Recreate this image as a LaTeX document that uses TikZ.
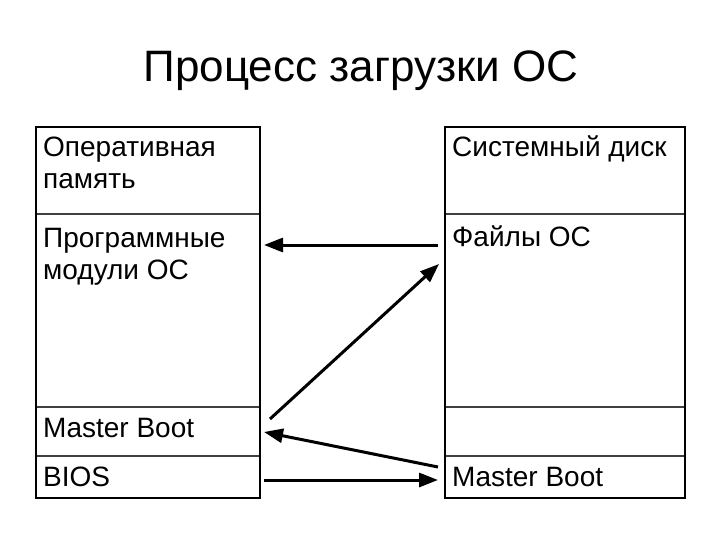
\documentclass[tikz,border=0pt]{standalone}
\usepackage{fontspec}
\setmainfont{Liberation Sans}
\usetikzlibrary{arrows.meta}
\begin{document}
\begin{tikzpicture}[x=1pt,y=-1pt,
  outer/.style={draw=black,line width=1.8pt},
  inner/.style={draw=black!75,line width=1.2pt},
  txt/.style={anchor=base west,inner sep=0pt,font=\fontsize{28}{32}\selectfont,align=left},
  arr/.style={line width=3pt,-{Triangle[length=19pt,width=14pt]}}]
\useasboundingbox (0,0) rectangle (720,540);
\node[anchor=base,inner sep=0pt,font=\fontsize{44}{50}\selectfont] (title) at (361,82) {Процесс загрузки ОС};
% left table
\draw[inner] (35,214) -- (259,214) (35,407) -- (259,407) (35,456) -- (259,456);
\node[outer,minimum width=224pt,minimum height=371pt,anchor=north west,inner sep=0pt] (left) at (35,126) {};
% right table
\draw[inner] (444,214) -- (684,214) (444,407) -- (684,407) (444,456) -- (684,456);
\node[outer,minimum width=240pt,minimum height=371pt,anchor=north west,inner sep=0pt] (right) at (444,126) {};
% texts (base = last line's baseline)
\node[txt] (ram) at (43,189) {Оперативная\\память};
\node[txt] (mods) at (43,279) {Программные\\модули ОС};
\node[txt] (mbl) at (43,437) {Master Boot};
\node[txt] (bios) at (43,486) {BIOS};
\node[txt] (sys) at (452,157) {Системный диск};
\node[txt] (files) at (452,247) {Файлы ОС};
\node[txt] (mbr) at (452,486) {Master Boot};
% arrow endpoints
\coordinate (a1s) at (438,245); \coordinate (a1e) at (264,245);
\coordinate (a2s) at (270,419); \coordinate (a2e) at (439,264);
\coordinate (a3s) at (438,467); \coordinate (a3e) at (264,432);
\coordinate (a4s) at (264,480); \coordinate (a4e) at (438,480);
\draw[arr] (a1s) -- (a1e);
\draw[arr] (a2s) -- (a2e);
\draw[arr] (a3s) -- (a3e);
\draw[arr] (a4s) -- (a4e);
\end{tikzpicture}
\end{document}
